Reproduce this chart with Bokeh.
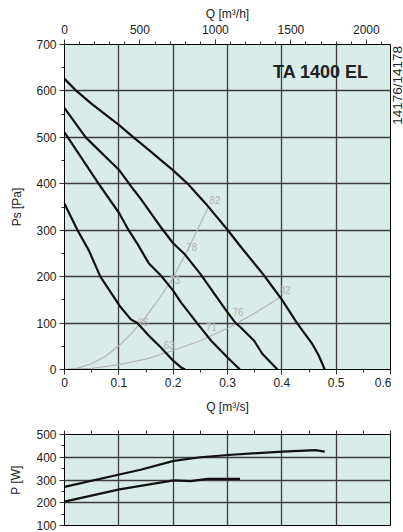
import numpy as np
from bokeh.plotting import figure
from bokeh.layouts import column, row
from bokeh.models import (LinearAxis, Range1d, FixedTicker, Label)
from bokeh.core.properties import value
from bokeh.embed import file_html
from bokeh.resources import INLINE

# ---------------- data ----------------
# fan curves (Q [m3/s], Ps [Pa])
c1_q = [0, 0.022, 0.05, 0.1, 0.127, 0.15, 0.2, 0.226, 0.25, 0.263, 0.3, 0.324, 0.367, 0.401, 0.428, 0.456, 0.468, 0.479]
c1_p = [626, 600, 572, 527, 500, 478, 429, 401, 370, 353, 301, 265, 203, 149, 100, 55, 30, 0]
c2_q = [0, 0.039, 0.101, 0.128, 0.14, 0.177, 0.2, 0.22, 0.25, 0.3, 0.315, 0.324, 0.349, 0.364, 0.392]
c2_p = [563, 500, 429, 386, 368, 307, 272, 250, 206, 123, 100, 91, 62, 34, 0]
c3_q = [0, 0.063, 0.101, 0.118, 0.134, 0.155, 0.177, 0.2, 0.214, 0.244, 0.27, 0.3, 0.323]
c3_p = [511, 400, 336, 300, 271, 229, 203, 170, 145, 100, 62, 26, 0]
c4_q = [0, 0.024, 0.045, 0.066, 0.101, 0.122, 0.134, 0.155, 0.177, 0.2, 0.214, 0.222]
c4_p = [357, 300, 256, 200, 138, 108, 100, 73, 48, 19, 5, 0]

# system curves (grey)
sa_q = [0, 0.025, 0.05, 0.075, 0.1, 0.125, 0.15, 0.175, 0.2, 0.225, 0.25, 0.266]
sa_p = [0, 3, 13, 28, 51, 80, 114, 154, 198, 254, 314, 352]
sb_q = [0, 0.05, 0.1, 0.15, 0.2, 0.25, 0.3, 0.35, 0.398]
sb_p = [0, 2.5, 10.5, 22.5, 41, 62, 89, 121, 156]

# sound labels on system curves
lab_txt = ["66", "73", "78", "82", "63", "71", "76", "82"]
lab_q = [0.1446, 0.203, 0.234, 0.277, 0.193, 0.270, 0.3195, 0.406]
lab_p = [102, 192, 264, 365, 52, 92, 124, 171]

# power curves (Q [m3/s], P [W])
w1_q = [0, 0.101, 0.14, 0.201, 0.25, 0.301, 0.401, 0.462, 0.479]
w1_p = [270, 324, 345, 384, 400, 410, 425, 431, 425]
w2_q = [0, 0.101, 0.201, 0.232, 0.263, 0.323]
w2_p = [205, 259, 298, 295, 305, 305]

x_ticks = [0, 0.1, 0.2, 0.3, 0.4, 0.5, 0.6]
x_minor = [round(0.05 * i, 2) for i in range(13)]
y_ticks = [0, 100, 200, 300, 400, 500, 600, 700]
y_minor = [50 * i for i in range(15)]
qh_ticks = [0, 500, 1000, 1500, 2000]
qh_minor = [100 * i for i in range(22)]
w_ticks = [100, 200, 300, 400, 500]
w_minor = [100, 150, 200, 250, 300, 350, 400, 450, 500]

title_txt = "TA 1400 EL"
code_txt = "14176/14178"

# ---------------- style ----------------
BG = "#d8ede9"
GRID = "#3c3c3c"
FONT = "Liberation Sans"
TXT = "#222222"


def style_axis(ax, size="12px"):
    ax.axis_line_color = "black"
    ax.major_tick_line_color = "#333333"
    ax.minor_tick_line_color = "#333333"
    ax.major_label_text_font = FONT
    ax.major_label_text_font_size = size
    ax.major_label_text_color = TXT
    ax.axis_label_text_font = FONT
    ax.axis_label_text_font_size = size
    ax.axis_label_text_font_style = "normal"
    ax.axis_label_text_color = TXT


H1 = 420
p = figure(width=391, height=H1, output_backend="svg", toolbar_location=None,
           x_range=Range1d(0, 0.6), y_range=Range1d(0, 700),
           min_border_left=64, min_border_right=1, min_border_top=44, min_border_bottom=51,
           x_axis_label="Q [m³/s]", y_axis_label="Ps [Pa]")
p.background_fill_color = BG
p.border_fill_color = "white"
p.outline_line_color = "black"
p.outline_line_width = 1

p.xaxis.ticker = FixedTicker(ticks=x_ticks, minor_ticks=x_minor)
p.xaxis.major_label_overrides = {0: "0"}
p.yaxis.ticker = FixedTicker(ticks=y_ticks, minor_ticks=y_minor)
for ax in p.xaxis + p.yaxis:
    style_axis(ax)
    ax.major_tick_out = 5
    ax.major_tick_in = 0
    ax.minor_tick_out = 3
    ax.minor_tick_in = 0
p.xaxis.major_label_standoff = 3
p.xaxis.axis_label_standoff = 10
p.yaxis.major_label_standoff = 3
p.yaxis.axis_label_standoff = 9

p.xgrid.ticker = FixedTicker(ticks=x_ticks)
p.ygrid.ticker = FixedTicker(ticks=y_ticks)
p.grid.grid_line_color = GRID
p.grid.grid_line_width = 1.3

p.extra_x_ranges = {"qh": Range1d(0, 2160)}
top = LinearAxis(x_range_name="qh", axis_label="Q [m³/h]",
                 ticker=FixedTicker(ticks=qh_ticks, minor_ticks=qh_minor))
style_axis(top)
top.major_tick_out = 5
top.major_tick_in = 0
top.minor_tick_out = 3
top.minor_tick_in = 0
top.major_label_standoff = 6
top.axis_label_standoff = 1
p.add_layout(top, "above")

# system curves
p.line(sa_q, sa_p, line_color="#b4b4b4", line_width=1.2)
p.line(sb_q, sb_p, line_color="#b4b4b4", line_width=1.2)
p.text(x=lab_q, y=lab_p, text=lab_txt, text_font=value(FONT), text_font_size="10px",
       text_color="#b0b0b0", text_align="center", text_baseline="middle")

# fan curves
for qq, pp in [(c1_q, c1_p), (c2_q, c2_p), (c3_q, c3_p), (c4_q, c4_p)]:
    p.line(qq, pp, line_color="#111111", line_width=2.2, line_join="round")

p.add_layout(Label(x=0.56, y=640, text=title_txt, text_font=FONT, text_font_size="18px",
                   text_font_style="bold", text_color="#222222", text_align="right",
                   text_baseline="middle"))

# narrow side strip holding the rotated code text (frame aligned with main plot)
side = figure(width=12, height=H1, output_backend="svg", toolbar_location=None,
              x_range=Range1d(0, 1), y_range=p.y_range,
              min_border_left=0, min_border_right=0, min_border_top=44, min_border_bottom=51,
              x_axis_location=None, y_axis_location=None)
side.outline_line_color = None
side.background_fill_color = "white"
side.grid.visible = False
side.add_layout(Label(x=0.5, y=612, text=code_txt, text_font=FONT, text_font_size="13.5px",
                      text_color="#222222", text_align="center", text_baseline="middle",
                      angle=np.pi / 2))

# ---------------- power figure ----------------
p2 = figure(width=391, height=112, output_backend="svg", toolbar_location=None,
            x_range=Range1d(0, 0.6), y_range=Range1d(100, 500),
            min_border_left=64, min_border_right=1, min_border_top=14, min_border_bottom=7,
            x_axis_location=None, y_axis_label="P [W]")
p2.background_fill_color = BG
p2.outline_line_color = "black"
p2.yaxis.ticker = FixedTicker(ticks=w_ticks, minor_ticks=w_minor)
style_axis(p2.yaxis[0])
p2.yaxis.major_tick_out = 5
p2.yaxis.major_tick_in = 0
p2.yaxis.minor_tick_out = 3
p2.yaxis.minor_tick_in = 0
p2.yaxis.major_label_standoff = 3
p2.yaxis.axis_label_standoff = 10
p2.xgrid.ticker = FixedTicker(ticks=x_ticks)
p2.ygrid.ticker = FixedTicker(ticks=w_ticks)
p2.grid.grid_line_color = GRID
p2.grid.grid_line_width = 1.3

top2 = LinearAxis(ticker=FixedTicker(ticks=[], minor_ticks=x_minor))
top2.axis_line_color = "black"
top2.major_tick_out = 0
top2.minor_tick_out = 4
top2.minor_tick_in = 0
top2.minor_tick_line_color = "#333333"
p2.add_layout(top2, "above")

p2.line(w1_q, w1_p, line_color="#111111", line_width=2.2, line_join="round")
p2.line(w2_q, w2_p, line_color="#111111", line_width=2.2, line_join="round")

lay = column(row(p, side, spacing=0), p2, spacing=0)
open("out.html", "w").write(file_html(lay, INLINE))
